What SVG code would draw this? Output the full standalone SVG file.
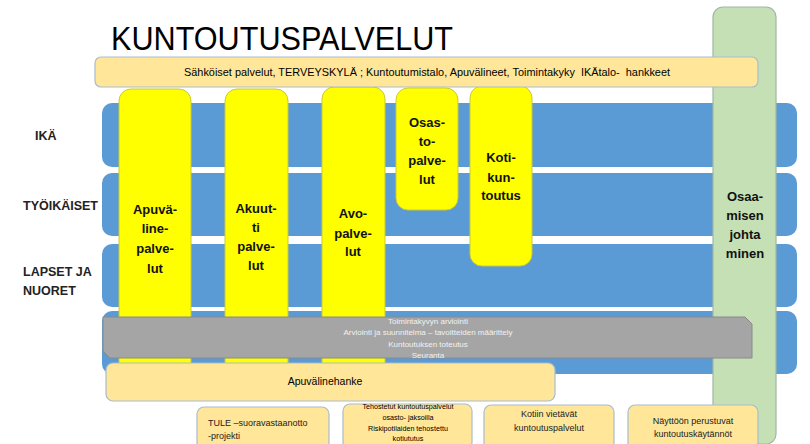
<svg xmlns="http://www.w3.org/2000/svg" width="810" height="444" viewBox="0 0 810 444">
<style>
.band{fill:#5B9BD5;}
.yel{fill:#FFFF00;stroke:#C9C93A;stroke-width:1;}
.tan{fill:#FFE699;stroke:#A9BCCF;stroke-width:1.2;}
.green{fill:#C5E0B4;stroke:#9DB8A6;stroke-width:1.2;}
.gray{fill:#A5A5A5;stroke:#8A8A8A;stroke-width:1;}
.t{font-family:"Liberation Sans",Arial,sans-serif;fill:#000;}
.b{font-weight:bold;font-size:13px;text-anchor:middle;fill:#111;}
.lab{font-weight:bold;font-size:12.5px;fill:#222;}
.g{font-size:8px;fill:#F2F2F2;text-anchor:middle;}
.s{font-size:9px;fill:#222;}
.m{text-anchor:middle;}
</style>
<rect width="810" height="444" fill="#FFFFFF"/>
<g id="bands">
<rect class="band" x="102" y="103" width="695" height="64" rx="10"/>
<rect class="band" x="102" y="173" width="695" height="63" rx="10"/>
<rect class="band" x="102" y="244" width="695" height="63" rx="10"/>
<rect class="band" x="102" y="311" width="695" height="63" rx="10"/>
</g>
<g id="osaamisen">
<rect class="green" x="713" y="7" width="63" height="437" rx="10"/>
<text class="t b" x="745" y="201">Osaa-</text>
<text class="t b" x="745" y="220">misen</text>
<text class="t b" x="745" y="239">johta</text>
<text class="t b" x="745" y="258">minen</text>
</g>
<g id="title">
<text class="t" x="111" y="50" font-size="34" textLength="342" lengthAdjust="spacingAndGlyphs" fill="#111">KUNTOUTUSPALVELUT</text>
</g>
<g id="labels">
<text class="t lab" x="35" y="140">IKÄ</text>
<text class="t lab" x="23" y="210">TYÖIKÄISET</text>
<text class="t lab" x="23" y="276">LAPSET JA</text>
<text class="t lab" x="23" y="295">NUORET</text>
</g>
<g id="apuvaline">
<rect class="yel" x="119" y="89" width="72" height="290" rx="12"/>
<text class="t b" x="155" y="214">Apuvä-</text>
<text class="t b" x="155" y="233">line-</text>
<text class="t b" x="155" y="253">palve-</text>
<text class="t b" x="155" y="273">lut</text>
</g>
<g id="akuutti">
<rect class="yel" x="225" y="89" width="63" height="290" rx="12"/>
<text class="t b" x="256" y="213">Akuut-</text>
<text class="t b" x="256" y="232">ti</text>
<text class="t b" x="256" y="251">palve-</text>
<text class="t b" x="256" y="270">lut</text>
</g>
<g id="avo">
<rect class="yel" x="322" y="87" width="63" height="292" rx="12"/>
<text class="t b" x="353" y="218">Avo-</text>
<text class="t b" x="353" y="238">palve-</text>
<text class="t b" x="353" y="256">lut</text>
</g>
<g id="osasto">
<rect class="yel" x="396" y="88" width="62" height="122" rx="12"/>
<text class="t b" x="427" y="127">Osas-</text>
<text class="t b" x="427" y="146">to-</text>
<text class="t b" x="427" y="165">palve-</text>
<text class="t b" x="427" y="184">lut</text>
</g>
<g id="koti">
<rect class="yel" x="470" y="86" width="62" height="180" rx="12"/>
<text class="t b" x="501" y="162">Koti-</text>
<text class="t b" x="501" y="182">kun-</text>
<text class="t b" x="501" y="200">toutus</text>
</g>
<g id="prosessi">
<path class="gray" d="M103,317 H745 L752,324 V358 H110 L103,351 Z"/>
<text class="t g" x="428" y="324">Toimintakyvyn arviointi</text>
<text class="t g" x="428" y="335">Arviointi ja suunnitelma – tavoitteiden määrittely</text>
<text class="t g" x="428" y="347">Kuntoutuksen toteutus</text>
<text class="t g" x="428" y="358">Seuranta</text>
</g>
<g id="hankkeet">
<rect class="tan" x="95" y="57" width="663" height="30" rx="6"/>
<text class="t m" x="427" y="76" font-size="10.5" textLength="486" lengthAdjust="spacingAndGlyphs" style="white-space:pre" fill="#222">Sähköiset palvelut, TERVEYSKYLÄ ; Kuntoutumistalo, Apuvälineet, Toimintakyky  IKÄtalo-  hankkeet</text>
</g>
<g id="apuvalinehanke">
<rect class="tan" x="106" y="363" width="449" height="38" rx="7"/>
<text class="t m" x="325" y="385" font-size="10.5" fill="#222">Apuvälinehanke</text>
</g>
<g id="tule">
<rect class="tan" x="197" y="407" width="132" height="42" rx="7"/>
<text class="t s" x="208" y="426">TULE –suoravastaanotto</text>
<text class="t s" x="208" y="439">-projekti</text>
</g>
<g id="tehostetut">
<rect class="tan" x="343" y="404" width="129" height="45" rx="7"/>
<text class="t m" x="408" y="409" font-size="7.2" fill="#222">Tehostetut kuntoutuspalvelut</text>
<text class="t m" x="408" y="420" font-size="7.2" fill="#222">osasto- jaksoilla</text>
<text class="t m" x="408" y="431" font-size="7.2" fill="#222">Riskipotilaiden tehostettu</text>
<text class="t m" x="408" y="441" font-size="7.2" fill="#222">kotiututus</text>
</g>
<g id="kotiin">
<rect class="tan" x="484" y="405" width="130" height="44" rx="7"/>
<text class="t s m" x="549" y="417">Kotiin vietävät</text>
<text class="t s m" x="549" y="431">kuntoutuspalvelut</text>
</g>
<g id="nayttoon">
<rect class="tan" x="628" y="405" width="130" height="44" rx="7"/>
<text class="t s m" x="693" y="424">Näyttöön perustuvat</text>
<text class="t s m" x="693" y="437">kuntoutuskäytännöt</text>
</g>
<g id="connectors"></g>
</svg>
